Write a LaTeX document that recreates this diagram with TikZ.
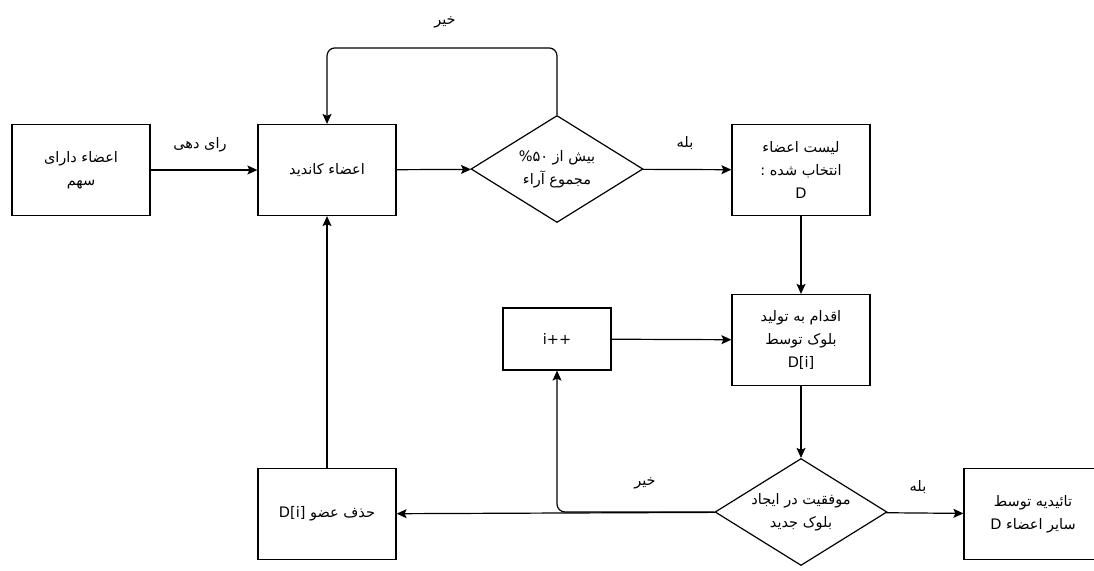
\documentclass[tikz,border=0pt]{standalone}
\usepackage{fontspec}
\setmainfont{DejaVu Sans}
\newfontfamily\farsi[Script=Arabic]{DejaVu Sans}
\TeXXeTstate=1
\usetikzlibrary{shapes.geometric,arrows.meta}
\newcommand\rtline[1]{\beginR #1\endR}
\tikzset{
  txt/.style={font=\farsi\fontsize{14.5}{23}\selectfont},
  box/.style={txt, draw, line width=1.2pt, minimum width=138pt, minimum height=91pt, align=center},
  smallbox/.style={txt, draw, line width=1.2pt, minimum width=108pt, minimum height=62pt, align=center},
  cond/.style={txt, draw, diamond, aspect=1.6, line width=1.2pt, minimum width=172pt, minimum height=107pt, inner sep=0pt, align=center},
  flow/.style={line width=1.2pt, -{Stealth[length=10pt,width=9pt,inset=2pt]}}
}
\begin{document}
\begin{tikzpicture}[x=1pt, y=-1pt]
\clip (0,0) rectangle (1094,570);
% top row
\node[box] (holders) at (81,170) {\rtline{اعضاء دارای}\\ \rtline{سهم}};
\node[box] (cands) at (327,170) {\rtline{اعضاء کاندید}};
\node[cond] (major) at (557,169) {\rtline{بیش از \beginL\%۵۰\endL}\\ \rtline{مجموع آراء}};
\node[box] (chosen) at (801,170) {\rtline{لیست اعضاء}\\ \rtline{انتخاب شده :}\\ D};
% middle row
\node[smallbox] (incr) at (557,339) {i++};
\node[box] (mine) at (801,340) {\rtline{اقدام به تولید}\\ \rtline{بلوک توسط}\\ D[i]};
% bottom row
\node[box] (drop) at (327,514) {\rtline{حذف عضو \beginL D[i]\endL}};
\node[cond] (success) at (801,512) {\rtline{موفقیت در ایجاد}\\ \rtline{بلوک جدید}};
\node[box] (confirm) at (1033,514) {\rtline{تائیدیه توسط}\\ \rtline{سایر اعضاء \beginL D\endL}};
% labels
\node[txt] (vote) at (200,145) {\rtline{رای دهی}};
\node[txt] (no1) at (445,22) {\rtline{خیر}};
\node[txt] (yes1) at (685,143) {\rtline{بله}};
\node[txt] (no2) at (645,483) {\rtline{خیر}};
\node[txt] (yes2) at (918,487) {\rtline{بله}};
% connectors
\draw[flow] (holders) -- (cands);
\draw[flow] (cands) -- (major);
\draw[flow] (major) -- (chosen);
\draw[flow, rounded corners=8pt] (major.north) -- ++(0,-67) -| (cands.north);
\draw[flow] (chosen) -- (mine);
\draw[flow] (incr) -- (mine);
\draw[flow] (mine) -- (success);
\draw[flow] (success) -- (confirm);
\draw[flow] (success) -- (drop);
\draw[flow, rounded corners=8pt] (success.west) -| (incr.south);
\draw[flow] (drop) -- (cands);
\end{tikzpicture}
\end{document}
